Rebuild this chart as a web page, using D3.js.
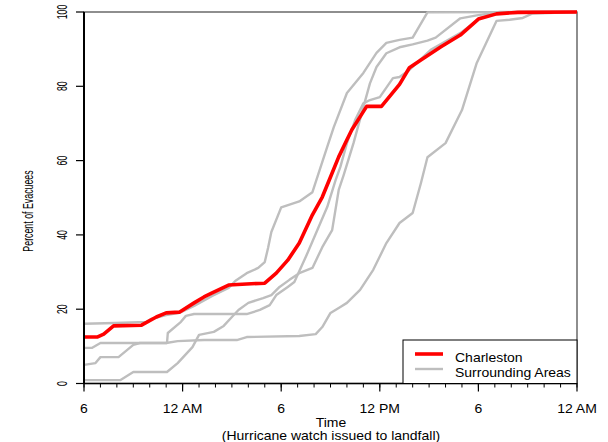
<!DOCTYPE html>
<html>
<head>
<meta charset="utf-8">
<script src="https://cdn.jsdelivr.net/npm/d3@7"></script>
<style>
  body { margin: 0; background: #fff; }
  text { font-family: "Liberation Sans", Arial, sans-serif; fill: #000; }
</style>
</head>
<body>
<svg id="chart"></svg>
<script>
const width = 608;
const height = 442;

// hours after 6 PM on the day the watch was issued
const hourTicks = [0, 6, 12, 18, 24, 30];
const hourLabels = ["6", "12 AM", "6", "12 PM", "6", "12 AM"];
const pctTicks = [0, 20, 40, 60, 80, 100];

const charlestonHours = [0, 0.8, 1.2, 1.8, 3.5, 4.4, 5.0, 5.8, 6.7, 7.3, 7.8, 8.8, 9.9, 11.0, 11.7, 12.4, 13.1, 13.9, 14.5, 15.0, 15.5, 16.0, 16.3, 17.2, 18.1, 19.2, 19.8, 20.5, 21.7, 22.9, 24.0, 25.1, 26.4, 30];
const charlestonPct = [12.5, 12.5, 13.3, 15.5, 15.7, 17.9, 19.0, 19.2, 21.7, 23.3, 24.4, 26.5, 26.8, 27.0, 29.7, 33.2, 37.8, 45.4, 50.2, 55.6, 61.0, 65.6, 68.3, 74.6, 74.6, 80.5, 85.0, 87.1, 90.6, 93.8, 98.1, 99.5, 99.9, 100];

const areaAHours = [0, 1.9, 3.8, 4.1, 5.0, 5.8, 6.7, 7.8, 8.8, 9.2, 9.9, 10.6, 11.0, 11.2, 11.4, 12.0, 13.1, 13.9, 14.8, 15.2, 16.0, 17.0, 17.8, 18.4, 19.2, 20.0, 20.9, 30];
const areaAPct = [16.1, 16.3, 16.6, 17.4, 18.4, 19.0, 20.9, 23.6, 25.7, 27.6, 29.7, 31.1, 32.7, 36.5, 40.8, 47.4, 49.0, 51.5, 63.7, 69.0, 78.2, 83.6, 89.0, 91.7, 92.5, 93.1, 99.9, 100];

const areaBHours = [0, 0.5, 1.0, 5.0, 5.7, 7.3, 9.3, 9.9, 13.1, 14.1, 14.5, 15.0, 15.6, 16.0, 16.8, 17.6, 18.4, 19.2, 20.0, 20.5, 20.9, 22.0, 23.0, 23.9, 25.1, 25.9, 26.7, 27.3, 30];
const areaBPct = [9.6, 9.6, 10.9, 10.9, 11.4, 11.7, 11.7, 12.5, 12.8, 13.3, 15.2, 19.0, 20.6, 21.7, 25.2, 30.6, 37.8, 43.2, 45.9, 53.9, 60.9, 64.7, 73.6, 86.3, 97.6, 97.9, 98.4, 99.6, 100];

const areaCHours = [0, 0.7, 1.0, 2.1, 3.0, 3.4, 5.05, 5.1, 5.9, 6.2, 6.7, 9.9, 10.7, 11.3, 11.7, 12.4, 12.8, 13.6, 14.2, 14.8, 15.3, 15.6, 16.0, 16.5, 17.0, 17.4, 18.0, 18.8, 19.2, 19.8, 20.3, 21.1, 23.0, 24.1, 25.3, 26.5, 30];
const areaCPct = [5.0, 5.5, 7.1, 7.1, 10.4, 10.9, 10.9, 13.6, 16.6, 18.2, 18.7, 18.7, 19.8, 21.1, 23.8, 26.0, 27.3, 35.1, 41.3, 47.5, 54.6, 58.3, 64.7, 70.9, 75.4, 76.3, 77.1, 82.2, 82.5, 84.4, 86.5, 89.8, 94.6, 98.4, 99.7, 100, 100];

const areaDHours = [0, 2.2, 3.0, 5.05, 5.7, 6.6, 7.0, 7.9, 8.5, 9.0, 9.4, 10.0, 10.9, 11.4, 11.9, 12.5, 13.1, 13.9, 14.5, 15.1, 15.5, 15.8, 16.4, 17.0, 17.4, 17.8, 18.4, 19.2, 20.0, 20.9, 21.4, 22.9, 23.9, 25.3, 30];
const areaDPct = [0.9, 0.9, 3.1, 3.1, 5.5, 9.8, 13.1, 13.9, 15.5, 17.9, 19.8, 21.7, 23.0, 23.8, 26.0, 27.9, 29.7, 31.1, 36.7, 41.3, 52.1, 56.1, 64.7, 74.4, 80.8, 85.2, 88.9, 90.5, 91.3, 92.3, 93.1, 98.3, 99.1, 100, 100];

const legendLabels = ["Charleston", "Surrounding Areas"];
const legendColors = ["#ff0000", "#bebebe"];

const toPoints = (hours, pct) => hours.map((h, i) => [h, pct[i]]);
const surrounding = [
    toPoints(areaAHours, areaAPct),
    toPoints(areaBHours, areaBPct),
    toPoints(areaCHours, areaCPct),
    toPoints(areaDHours, areaDPct)
];
const charleston = toPoints(charlestonHours, charlestonPct);

const svg = d3.select("#chart").attr("width", width).attr("height", height);

const x = d3.scaleLinear().domain([0, 30]).range([84, 577]);
const y = d3.scaleLinear().domain([0, 100]).range([383.5, 12]);

const line = d3.line().x(d => x(d[0])).y(d => y(d[1]));

// plot box
svg.append("rect").attr("x", x(0)).attr("y", y(100)).attr("width", x(30) - x(0)).attr("height", y(0) - y(100))
    .attr("fill", "none").attr("stroke", "#444").attr("stroke-width", 1.2);

svg.selectAll(".area-line").data(surrounding).enter().append("path").attr("class", "area-line")
    .attr("d", line).attr("fill", "none").attr("stroke", legendColors[1]).attr("stroke-width", 2.4)
    .attr("stroke-linejoin", "round");

svg.append("path").datum(charleston).attr("d", line).attr("fill", "none")
    .attr("stroke", legendColors[0]).attr("stroke-width", 3.6).attr("stroke-linejoin", "round");

// x axis
const xAxis = svg.append("g");
xAxis.append("line").attr("x1", x(0)).attr("x2", x(30)).attr("y1", y(0)).attr("y2", y(0)).attr("stroke", "#000").attr("stroke-width", 1.6);
xAxis.selectAll(".minor").data(d3.range(0, 31)).enter().append("line").attr("class", "minor")
    .attr("x1", d => x(d)).attr("x2", d => x(d)).attr("y1", y(0)).attr("y2", y(0) + 4)
    .attr("stroke", "#000").attr("stroke-width", 1);
xAxis.selectAll(".major").data(hourTicks).enter().append("line").attr("class", "major")
    .attr("x1", d => x(d)).attr("x2", d => x(d)).attr("y1", y(0)).attr("y2", y(0) + 8)
    .attr("stroke", "#000").attr("stroke-width", 1.2);
xAxis.selectAll("text").data(hourTicks).enter().append("text")
    .attr("transform", d => `translate(${x(d)},413) scale(1,0.95)`)
    .attr("text-anchor", "middle").style("font-size", "14px")
    .text((d, i) => hourLabels[i]);

// y axis
const yAxis = svg.append("g");
yAxis.append("line").attr("x1", x(0)).attr("x2", x(0)).attr("y1", y(0)).attr("y2", y(100)).attr("stroke", "#000").attr("stroke-width", 2);
yAxis.selectAll(".tick").data(pctTicks).enter().append("line").attr("class", "tick")
    .attr("x1", x(0) - 8).attr("x2", x(0)).attr("y1", d => y(d)).attr("y2", d => y(d))
    .attr("stroke", "#000").attr("stroke-width", 1.2);
yAxis.selectAll("text").data(pctTicks).enter().append("text")
    .attr("transform", d => `translate(67,${y(d)}) rotate(-90) scale(0.62,1)`)
    .attr("text-anchor", "middle").style("font-size", "14px")
    .text(d => d);

svg.append("text").attr("transform", "translate(33,211) rotate(-90) scale(0.63,1)")
    .attr("text-anchor", "middle").style("font-size", "14px").text("Percent of Evacuees");

svg.append("text").attr("transform", "translate(331,427) scale(1,0.9)")
    .attr("text-anchor", "middle").style("font-size", "14px").text("Time");
svg.append("text").attr("transform", "translate(331,440) scale(1,0.9)")
    .attr("text-anchor", "middle").style("font-size", "14px").text("(Hurricane watch issued to landfall)");

// legend
const legend = svg.append("g");
legend.append("rect").attr("x", 403).attr("y", 340).attr("width", 174).attr("height", 43.5)
    .attr("fill", "#fff").attr("stroke", "#000").attr("stroke-width", 1);
legend.selectAll("line").data(legendLabels).enter().append("line")
    .attr("x1", 415).attr("x2", 443).attr("y1", (d, i) => 354 + i * 15).attr("y2", (d, i) => 354 + i * 15)
    .attr("stroke", (d, i) => legendColors[i]).attr("stroke-width", (d, i) => i === 0 ? 3.6 : 2.4);
legend.selectAll("text").data(legendLabels).enter().append("text")
    .attr("transform", (d, i) => `translate(455,${361.5 + i * 15}) scale(1,0.88)`)
    .style("font-size", "14px").text(d => d);
</script>
</body>
</html>
